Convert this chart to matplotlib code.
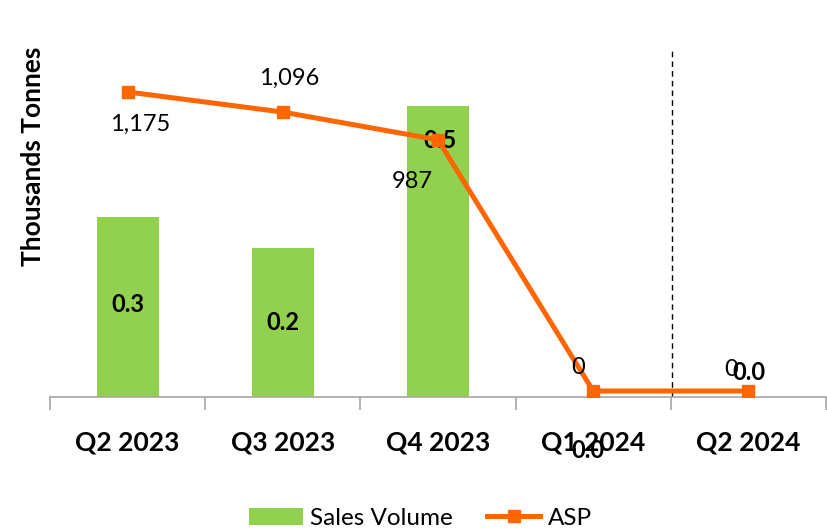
import matplotlib.pyplot as plt
import numpy as np

plt.rcParams['font.family'] = ['Lato', 'DejaVu Sans']

quarters = ["Q2 2023", "Q3 2023", "Q4 2023", "Q1 2024", "Q2 2024"]
sales_volume = [0.30, 0.248, 0.485, 0.0, 0.0]
asp = [1175, 1096, 987, 0, 0]

fig = plt.figure(figsize=(8.28, 5.30), dpi=100)
ax = fig.add_axes([50/828, 1-397/530, 776/828, 349/530])
ax2 = ax.twinx()

x = np.arange(len(quarters))
bars = ax.bar(x, sales_volume, width=0.4, color='#92D050', label='Sales Volume', zorder=1)
ax2.plot(x, asp, color='#FF6600', lw=3.6, marker='s', ms=8, label='ASP', zorder=3)

ax.set_xlim(-0.5, len(quarters) - 0.5)
ax.set_ylim(0, 349/600)
ax2.set_ylim(-6/0.2545, 343/0.2545)

# dashed separator between Q1 2024 and Q2 2024
ax.axvline(3.51, color='black', lw=1, ls=(0, (4, 3)), zorder=2)

for a in (ax, ax2):
    for s in ['top', 'right', 'left']:
        a.spines[s].set_visible(False)
    a.set_yticks([])
ax2.spines['bottom'].set_visible(False)
ax.spines['bottom'].set_color('#a6a6a6')
ax.spines['bottom'].set_linewidth(1.2)

ax.set_xticks(x)
ax.set_xticklabels(quarters, fontsize=19, fontweight='bold')
ax.tick_params(axis='x', which='major', length=0, pad=24)
ax.set_xticks(np.arange(-0.5, len(quarters)), minor=True)
ax.tick_params(axis='x', which='minor', length=9, width=1.2, color='#a6a6a6')

ax.set_ylabel("Thousands Tonnes", fontsize=19, fontweight='bold')
ax.yaxis.set_label_coords(-0.006, 0.689)

# bar value labels (pixel offsets from bar top)
bar_offsets = [(0, -88), (0, -74), (2, -35), (-5, -53), (1, 25)]
for i, (v, off) in enumerate(zip(sales_volume, bar_offsets)):
    ax.annotate(f"{v:.1f}", (i, v), xytext=off, textcoords='offset pixels',
                ha='center', va='center', fontsize=17, fontweight='bold',
                annotation_clip=False, zorder=5)

# ASP labels
asp_offsets = [(13, -32), (6, 34), (-26, -42), (-15, 24), (-17, 22)]
for i, (v, off) in enumerate(zip(asp, asp_offsets)):
    ax2.annotate(f"{v:,}", (i, v), xytext=off, textcoords='offset pixels',
                 ha='center', va='center', fontsize=17, zorder=5)

h1, l1 = ax.get_legend_handles_labels()
h2, l2 = ax2.get_legend_handles_labels()
fig.legend(h1 + h2, l1 + l2, loc='center', bbox_to_anchor=(0.508, 0.022), ncol=2,
           frameon=False, fontsize=17.5, handlelength=2.2, columnspacing=1.4,
           handletextpad=0.3)

plt.savefig("out.png", dpi=100)
plt.close('all')
